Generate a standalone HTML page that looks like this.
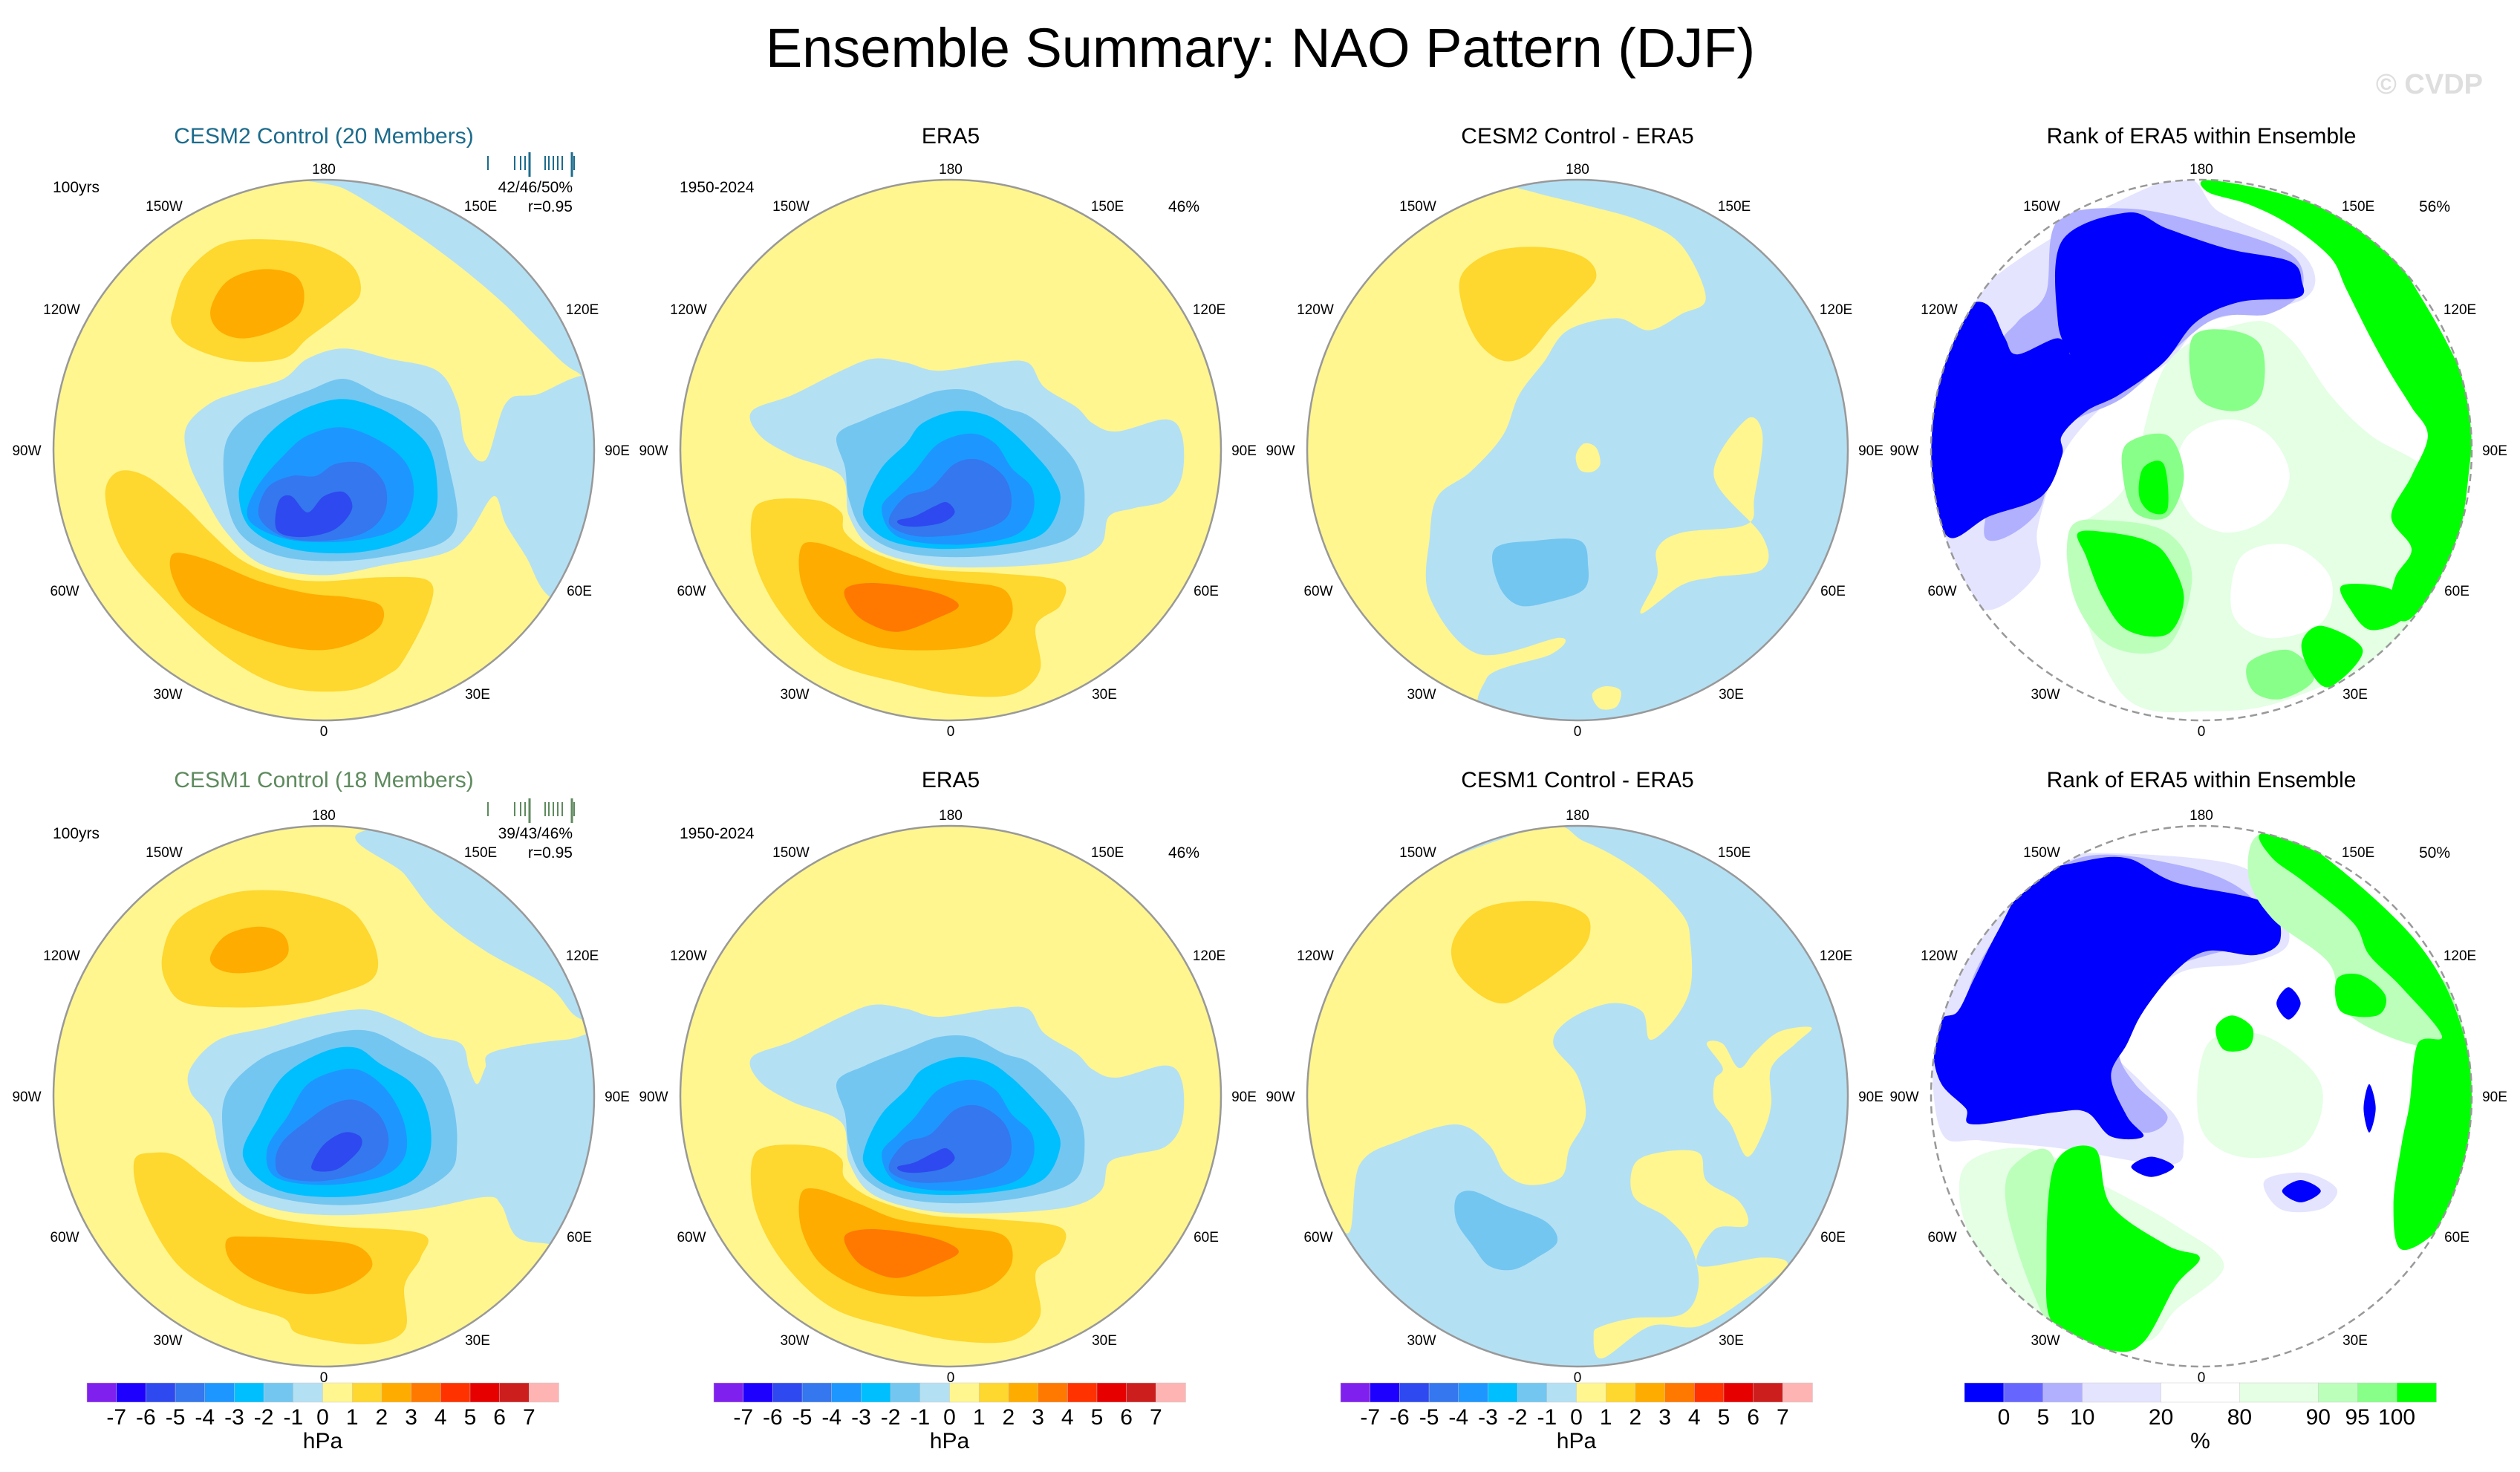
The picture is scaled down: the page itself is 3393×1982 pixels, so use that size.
<!DOCTYPE html>
<html><head><meta charset="utf-8"><style>
html,body{margin:0;padding:0;background:#fff;}
svg{display:block;font-family:"Liberation Sans",sans-serif;}
</style></head><body>
<svg id="fig" width="3393" height="1982" viewBox="0 0 3393 1982" xmlns="http://www.w3.org/2000/svg">
<rect width="3393" height="1982" fill="#fff"/>
<text x="1697" y="90" font-size="74" text-anchor="middle" fill="#000">Ensemble Summary: NAO Pattern (DJF)</text>
<text x="3343" y="126" font-size="38" font-weight="bold" text-anchor="end" fill="#dedede">© CVDP</text>
<g id="panels"></g>
</svg>
<script>
// ---- Data ----
const cbColors=["#8020ee","#1e00ff","#2e49ef","#3477ee","#1e96ff","#00bfff","#73c6f0","#b4e0f4","#fff68f","#fed72f","#feac00","#ff7800","#ff3200","#e60000","#cd1e1e","#ffb4b4"];
const cbLabels=[-7,-6,-5,-4,-3,-2,-1,0,1,2,3,4,5,6,7];
const rankColors=["#0000ff","#6666ff","#b0b0ff","#e4e4ff","#ffffff","#e4ffe4","#bbffbb","#88ff88","#00ff00"];
const rankWidths=[1,1,1,2,2,2,1,1,1];
const rankLabels=[0,5,10,20,80,90,95,100];
const lonLabels=["180","150E","120E","90E","60E","30E","0","30W","60W","90W","120W","150W"];

// contour shapes: [level, [x,y,...]] in the panel's reading grid
const p1Shapes=[
 [-1,[760,160,1500,160,1500,640,1420,640,1330,560,1240,470,1120,370,980,270,850,190]],
 [-1,[460,780,520,720,600,690,700,660,760,610,850,585,960,610,1080,640,1130,720,1150,820,1200,860,1250,720,1320,700,1500,690,1500,1250,1360,1200,1300,1100,1250,1020,1220,950,1160,1040,1100,1090,950,1120,800,1145,650,1120,560,1040,500,940,465,860]],
 [-2,[555,830,600,760,680,720,760,690,850,660,940,700,1020,730,1080,780,1110,880,1130,1000,1100,1060,1000,1090,850,1110,700,1100,600,1050,560,960]],
 [-3,[590,950,610,880,660,800,740,740,840,710,930,730,1000,770,1060,830,1080,920,1070,1000,1000,1060,870,1090,720,1080,620,1030]],
 [-4,[610,990,640,920,700,850,760,800,850,780,950,820,1010,880,1020,960,980,1030,870,1060,730,1060,640,1030]],
 [-5,[640,1000,660,930,720,900,780,900,830,870,900,870,950,920,950,990,900,1040,800,1060,700,1050]],
 [-6,[680,1020,690,960,720,950,760,990,800,950,850,940,870,980,830,1030,760,1050,700,1045]],
 [1,[430,480,460,400,540,330,640,315,780,330,870,380,890,450,840,500,760,560,700,610,580,615,470,580,425,530]],
 [2,[520,490,560,420,640,390,720,400,750,440,740,500,680,540,600,560,540,540]],
 [1,[260,950,290,890,360,900,450,970,520,1040,600,1110,700,1150,800,1160,950,1150,1060,1160,1060,1230,1000,1350,960,1390,860,1430,700,1420,550,1340,400,1200,300,1080]],
 [2,[420,1110,440,1090,520,1110,640,1160,760,1190,860,1200,940,1220,940,1270,880,1310,800,1330,700,1320,580,1280,470,1220,430,1160]]
];
const eraShapes=[
 [-1,[150,740,200,700,260,640,300,610,340,620,380,640,450,620,490,620,510,680,550,730,570,770,600,790,660,760,680,800,680,900,660,960,620,980,590,1000,580,1070,540,1110,450,1125,370,1120,300,1080,270,1000,260,900,200,850,160,800]],
 [-2,[255,800,290,760,340,720,380,690,420,690,460,730,490,750,520,800,550,870,560,950,550,1040,500,1080,420,1100,340,1090,290,1040,270,960,265,880]],
 [-3,[290,960,310,880,340,820,360,770,400,740,440,750,470,790,500,850,520,900,530,960,510,1040,460,1070,380,1080,320,1060,290,1010]],
 [-4,[310,980,330,930,350,890,380,820,420,795,450,820,470,880,495,930,495,1000,470,1050,400,1070,330,1050]],
 [-5,[320,1000,340,950,370,930,400,870,430,860,460,900,470,960,460,1010,420,1040,360,1050,325,1030]],
 [-6,[330,1010,350,1000,375,975,390,965,400,990,385,1015,355,1025,335,1022]],
 [1,[150,1000,170,960,230,960,260,990,265,1040,300,1090,370,1130,450,1140,530,1160,530,1220,500,1270,505,1380,470,1440,400,1440,330,1410,250,1360,190,1250,155,1120]],
 [2,[210,1080,230,1065,280,1100,330,1140,400,1160,460,1180,470,1250,440,1310,380,1330,300,1320,240,1260,212,1170]],
 [3,[265,1180,290,1165,330,1170,380,1190,405,1220,380,1250,330,1285,290,1260,270,1220]]
];
const p3Shapes=[
 [-1,[1100,180,1200,160,1520,300,1520,1520,1100,1520,1060,1400,1140,1340,1150,1300,1050,1340,990,1200,990,1050,1000,950,1040,890,1080,800,1100,700,1130,620,1160,540,1220,510,1260,540,1300,500,1330,460,1300,330,1250,270,1180,230,1120,200]],
 [0,[1340,900,1380,760,1400,800,1390,950,1380,1020,1300,1040,1270,1080,1270,1150,1250,1240,1300,1170,1340,1150,1400,1130,1400,1050]],
 [0,[1170,850,1180,820,1195,830,1200,870,1190,890,1175,885]],
 [0,[1190,1440,1205,1420,1225,1430,1220,1470,1200,1475]],
 [1,[1030,400,1070,345,1130,335,1180,360,1195,410,1170,470,1140,530,1110,600,1080,615,1050,570,1030,480]],
 [-2,[1070,1080,1120,1060,1175,1060,1185,1120,1180,1180,1140,1210,1100,1220,1075,1170]]
];
const p5Shapes=[
 [-1,[455,170,800,160,800,650,720,640,680,560,600,470,540,380,500,280]],
 [-1,[235,760,270,690,330,660,390,630,450,615,490,640,530,680,570,700,580,760,590,800,600,760,610,720,700,690,800,690,800,1250,690,1200,640,1180,620,1100,600,1080,520,1110,420,1125,340,1110,290,1060,270,960,260,880,235,820]],
 [-2,[280,820,320,740,370,700,420,670,460,670,500,710,540,760,560,850,565,950,555,1020,500,1080,420,1100,340,1080,290,1030,275,920]],
 [-3,[300,980,320,880,350,780,400,720,440,710,470,750,510,800,530,880,530,980,500,1050,420,1080,340,1060]],
 [-4,[330,960,355,880,380,800,420,765,450,770,480,820,500,900,500,980,470,1030,400,1050,340,1030]],
 [-5,[340,990,350,940,380,890,410,850,440,840,470,880,480,950,460,1010,400,1040,350,1030]],
 [-6,[385,1000,400,950,425,920,445,930,445,960,425,1000,410,1015,390,1015]],
 [1,[200,480,220,390,280,330,340,320,400,340,440,380,465,470,460,540,410,580,370,600,300,610,230,600,205,550]],
 [2,[260,480,280,430,320,410,350,430,355,480,330,515,290,525,265,510]],
 [1,[165,990,190,970,220,980,260,1040,320,1120,400,1150,520,1170,520,1230,500,1300,500,1410,450,1445,370,1420,350,1380,290,1340,220,1250,175,1100]],
 [2,[280,1185,310,1178,380,1185,440,1200,460,1250,430,1300,380,1320,320,1290,285,1240]]
];
const p7Shapes=[
 [-1,[0,0,800,0,800,1600,0,1600]],
 [0,[330,170,80,400,55,700,60,1000,105,1170,120,1000,170,940,240,900,280,950,300,1020,330,1050,370,1030,380,960,400,880,390,780,360,700,380,640,430,600,470,620,480,690,510,640,530,560,530,450,520,380,470,280,400,200]],
 [0,[550,700,570,760,560,790,560,850,580,900,600,980,620,920,630,850,630,760,660,700,680,660,640,670,610,720,590,760,570,700]],
 [0,[460,1000,490,970,540,970,550,1040,590,1090,600,1150,560,1160,540,1250,620,1230,650,1250,600,1330,540,1400,480,1400,420,1480,410,1420,420,1400,460,1380,520,1370,540,1300,530,1200,500,1130,460,1080]],
 [1,[235,450,260,380,300,350,360,350,400,380,405,430,390,480,360,530,330,570,300,600,270,580,240,520]],
 [-2,[240,1080,260,1065,300,1100,350,1140,365,1190,340,1230,310,1260,280,1250,260,1200,240,1140]]
];
// rank shapes: [colorIndex, [x,y,...]]
const p4Rank=[
 [3,[700,170,250,430,130,700,160,1080,250,1230,380,1140,380,1030,440,850,550,720,700,620,800,520,1040,460,1030,350,830,250]],
 [5,[700,620,900,520,1000,560,1100,700,1200,800,1350,900,1400,1100,1300,1300,1000,1450,800,1480,600,1450,480,1200,460,1050,600,920]],
 [4,[750,800,850,760,950,800,1000,900,950,1000,850,1040,760,1000,720,900]],
 [4,[880,1100,1000,1070,1100,1150,1080,1260,950,1300,860,1240]],
 [2,[430,270,600,240,800,280,1000,350,1030,440,950,500,800,520,600,700,440,790,380,990,250,1050,300,800,280,600,330,520,400,450]],
 [0,[440,320,600,250,700,290,850,340,1000,370,1030,420,1020,460,880,470,770,520,690,620,580,700,500,740,440,800,440,850,390,950,260,1000,160,1050,120,900,130,700,170,560,210,480,260,480,300,560,330,600,430,560,460,600,430,520]],
 [7,[760,560,850,540,930,580,930,700,860,740,770,700]],
 [7,[600,820,700,800,740,900,700,1000,620,990,590,900]],
 [7,[900,1360,1000,1330,1060,1400,980,1450,910,1430]],
 [6,[460,1030,560,1010,700,1040,760,1150,700,1320,560,1320,470,1200]],
 [8,[800,170,1000,210,1200,300,1330,470,1440,700,1440,900,1400,1100,1300,1250,1250,1230,1260,1150,1300,1080,1250,1000,1300,900,1340,800,1300,730,1250,650,1200,560,1140,440,1100,360,1000,280,900,230,800,200]],
 [8,[480,1040,560,1040,650,1060,700,1100,740,1200,700,1290,600,1280,540,1200,500,1100]],
 [8,[1030,1310,1080,1270,1180,1330,1100,1420,1050,1380]],
 [8,[1130,1170,1250,1180,1280,1250,1200,1280,1150,1230]],
 [8,[640,880,690,870,700,980,660,990,630,950]]
];
const p8Rank=[
 [3,[1000,230,1200,250,1260,330,1280,450,1230,500,1150,520,1100,600,1060,700,1100,800,1140,880,1150,950,1130,1000,1000,960,900,940,850,920,840,700,870,500,950,300]],
 [5,[880,1000,960,960,1050,1050,1140,1150,1200,1250,1140,1360,1100,1440,1000,1400,930,1300,880,1150]],
 [5,[1180,700,1250,680,1320,800,1300,950,1220,980,1170,900]],
 [2,[1020,240,1150,260,1230,330,1260,450,1200,470,1130,520,1090,620,1070,720,1090,800,1130,880,1100,920,1050,850,1000,800,900,820,880,600,930,400]],
 [0,[960,290,1020,250,1080,240,1140,300,1250,350,1270,440,1240,480,1180,470,1140,520,1100,620,1080,700,1060,780,1080,880,1100,930,1060,930,1030,870,990,870,890,900,880,860,850,800,840,720,850,640,870,620,890,540,920,420]],
 [3,[1250,1040,1300,1020,1340,1060,1320,1110,1270,1110]],
 [0,[1085,1005,1110,980,1138,1005,1110,1030]],
 [0,[1272,1065,1295,1038,1320,1065,1295,1093]],
 [0,[1265,600,1280,560,1295,600,1280,640]],
 [0,[1373,860,1380,800,1388,860,1380,920]],
 [6,[940,1000,990,990,990,1380,960,1300,930,1100]],
 [8,[990,1000,1040,960,1060,1100,1130,1200,1170,1230,1140,1300,1100,1440,1060,1460,990,1400,980,1250]],
 [6,[1250,180,1350,300,1420,470,1480,560,1500,700,1430,700,1350,620,1330,500,1260,390,1230,280]],
 [8,[1245,180,1300,200,1440,450,1500,700,1510,1000,1470,1150,1420,1210,1410,1100,1420,950,1430,850,1440,700,1470,680,1420,560,1380,480,1360,400,1300,300,1260,240]],
 [8,[1340,540,1370,530,1400,580,1390,630,1345,620]],
 [8,[1190,660,1210,630,1235,660,1230,710,1200,715]]
];

// ---- Layout ----
const R=364;
const panels=[
 {id:"cesm2-control",px:436,py:606,view:[800,836,668,668],shapes:p1Shapes,kind:"c",title:"CESM2 Control (20 Members)",tcol:"#1b6b8c",left:"100yrs",right:["42/46/50%","r=0.95"],ticks:true},
 {id:"era5-top",px:1280,py:606,view:[395,836,333,668],shapes:eraShapes,kind:"c",title:"ERA5",tcol:"#000",left:"1950-2024",right:[null,"46%"]},
 {id:"cesm2-minus-era5",px:2124,py:606,view:[1172,836,333,668],shapes:p3Shapes,kind:"c",title:"CESM2 Control - ERA5",tcol:"#000"},
 {id:"rank-top",px:2964,py:606,view:[783,836,665,667],shapes:p4Rank,kind:"r",title:"Rank of ERA5 within Ensemble",tcol:"#000",right:[null,"56%"]},
 {id:"cesm1-control",px:436,py:1476,view:[400,830,335,670],shapes:p5Shapes,kind:"c",title:"CESM1 Control (18 Members)",tcol:"#5e8a5e",left:"100yrs",right:["39/43/46%","r=0.95"],ticks:true},
 {id:"era5-bottom",px:1280,py:1476,view:[395,836,333,668],shapes:eraShapes,kind:"c",title:"ERA5",tcol:"#000",left:"1950-2024",right:[null,"46%"]},
 {id:"cesm1-minus-era5",px:2124,py:1476,view:[390,830,335,670],shapes:p7Shapes,kind:"c",title:"CESM1 Control - ERA5",tcol:"#000"},
 {id:"rank-bottom",px:2964,py:1476,view:[1172,830,335,670],shapes:p8Rank,kind:"r",title:"Rank of ERA5 within Ensemble",tcol:"#000",right:[null,"50%"]}
];
const lonOff=[[0,-379],[211,-329],[348,-190],[395,0],[344,189],[207,328],[0,378],[-210,328],[-349,189],[-400,0],[-353,-190],[-215,-329]];
const NS="http://www.w3.org/2000/svg";
const root=document.getElementById("panels");
function mk(tag,attrs,parent){const e=document.createElementNS(NS,tag);for(const k in attrs)e.setAttribute(k,attrs[k]);(parent||root).appendChild(e);return e;}
function smoothPath(pts){
 const n=pts.length;let d="M"+pts[0][0].toFixed(1)+","+pts[0][1].toFixed(1);
 for(let i=0;i<n;i++){const p0=pts[(i-1+n)%n],p1=pts[i],p2=pts[(i+1)%n],p3=pts[(i+2)%n];
  const c1=[p1[0]+(p2[0]-p0[0])/6,p1[1]+(p2[1]-p0[1])/6],c2=[p2[0]-(p3[0]-p1[0])/6,p2[1]-(p3[1]-p1[1])/6];
  d+="C"+c1[0].toFixed(1)+","+c1[1].toFixed(1)+" "+c2[0].toFixed(1)+","+c2[1].toFixed(1)+" "+p2[0].toFixed(1)+","+p2[1].toFixed(1);}
 return d+"Z";}
panels.forEach((p,pi)=>{
 const g=mk("g",{});
 
 
 const cp=mk("clipPath",{id:"clip"+pi},g);mk("circle",{cx:p.px,cy:p.py,r:R},cp);
 const mg=mk("g",{"clip-path":"url(#clip"+pi+")"},g);
 const bg=mk("circle",{cx:p.px,cy:p.py,r:R,fill:p.kind==="c"?cbColors[8]:"#ffffff"},mg);
 
 
 const [vx,vy,vrx,vry]=p.view;
 p.shapes.forEach(s=>{
  const pts=[];for(let i=0;i<s[1].length;i+=2)pts.push([p.px+(s[1][i]-vx)/vrx*R,p.py+(s[1][i+1]-vy)/vry*R]);
  const col=p.kind==="c"?cbColors[8+s[0]]:rankColors[s[0]];
  const e=mk("path",{d:smoothPath(pts),fill:col},mg);
  
  
 });
 const ring=mk("circle",{cx:p.px,cy:p.py,r:R,fill:"none",stroke:"#999",'stroke-width':2.5,'stroke-dasharray':p.kind==="r"?"10 6":"none"},g);
 
 
 lonLabels.forEach((l,i)=>{
  const t=mk("text",{x:p.px+lonOff[i][0],y:p.py+lonOff[i][1]+7,'font-size':19,'text-anchor':"middle",fill:"#000"},g);
  t.textContent=l;
  
  
 });
 const ty=p.py-(pi<4?413:416);
 const tt=mk("text",{x:p.px,y:ty,'font-size':30,'text-anchor':"middle",fill:p.tcol},g);
 tt.textContent=p.title;
 
 
 if(p.left){const t=mk("text",{x:p.px-365,y:p.py-347,'font-size':21,fill:"#000"},g);t.textContent=p.left;
  
  }
 if(p.right){p.right.forEach((r,k)=>{if(!r)return;const t=mk("text",{x:p.px+335,y:p.py-(k===0?347:321),'font-size':21,'text-anchor':"end",fill:"#000"},g);t.textContent=r;
  
  });}
 if(p.ticks){const tc=p.tcol;const xs=[0,36,44,50,56,77,82,88,94,100,113,116];
  xs.forEach((dx,k)=>{const big=(k===4||k===10);const l=mk("line",{x1:p.px+221+dx,x2:p.px+221+dx,y1:p.py-(big?401:396),y2:p.py-(big?368:377),stroke:tc,'stroke-width':big?3:2},g);
   
   });}
 // colorbar
 const x0=p.px-319,w=635,y0=1862,h=26;
 if(pi>=4){
 if(p.kind==="c"){const bw=w/cbColors.length;
  cbColors.forEach((c,i)=>{const r=mk("rect",{x:x0+i*bw,y:y0,width:bw+0.5,height:h,fill:c,stroke:"#ccc",'stroke-width':0.5},g);
   
   });
  cbLabels.forEach((v,i)=>{const t=mk("text",{x:x0+(i+1)*bw,y:1918,'font-size':30,'text-anchor':"middle",fill:"#000"},g);t.textContent=v;
   
   });
  const u=mk("text",{x:x0+w/2,y:1950,'font-size':30,'text-anchor':"middle",fill:"#000"},g);u.textContent="hPa";
  
  
 } else {const tot=rankWidths.reduce((a,b)=>a+b,0),uw=w/tot;let acc=0;const bounds=[];
  rankColors.forEach((c,i)=>{const r=mk("rect",{x:x0+acc*uw,y:y0,width:rankWidths[i]*uw+0.5,height:h,fill:c,stroke:"#ccc",'stroke-width':0.5},g);
   
   
   acc+=rankWidths[i];bounds.push(acc);});
  rankLabels.forEach((v,i)=>{const t=mk("text",{x:x0+bounds[i]*uw,y:1918,'font-size':30,'text-anchor':"middle",fill:"#000"},g);t.textContent=v;
   
   });
  const u=mk("text",{x:x0+w/2,y:1950,'font-size':30,'text-anchor':"middle",fill:"#000"},g);u.textContent="%";
  
  
 }}
});
</script>
</body></html>
